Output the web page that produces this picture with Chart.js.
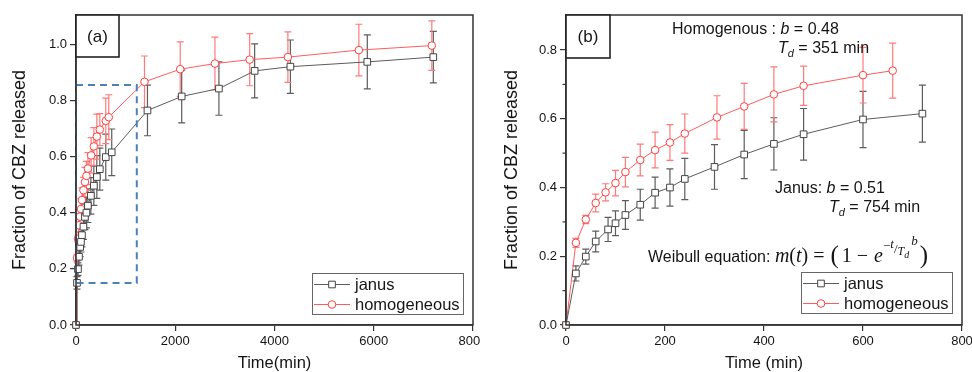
<!DOCTYPE html>
<html><head><meta charset="utf-8">
<script src="https://cdn.jsdelivr.net/npm/chart.js@4.4.0/dist/chart.umd.min.js"></script>
<style>
html,body{margin:0;padding:0;background:#fff;width:972px;height:372px;overflow:hidden}
#wa{position:absolute;left:0;top:0;width:480px;height:372px}
#wb{position:absolute;left:486px;top:0;width:486px;height:372px}
</style></head><body>
<div id="wa"><canvas id="ca" width="480" height="372"></canvas></div>
<div id="wb"><canvas id="cb" width="486" height="372"></canvas></div>
<script>
// ---------- data ----------
const seriesNames = ['janus', 'homogeneous'];
// early release (minutes)
const janusTime = [0, 20, 40, 60, 85, 100, 120, 150, 180, 210, 240, 300, 360, 420, 480, 600, 720];
const janusFrac = [0, 0.150, 0.199, 0.243, 0.278, 0.296, 0.320, 0.350, 0.385, 0.400, 0.425, 0.460, 0.496, 0.527, 0.555, 0.598, 0.615];
const janusErr  = [0, 0.022, 0.022, 0.030, 0.035, 0.036, 0.042, 0.045, 0.045, 0.054, 0.060, 0.065, 0.070, 0.076, 0.075, 0.082, 0.083];
const homTime = [0, 20, 40, 60, 80, 100, 120, 150, 180, 210, 240, 305, 360, 420, 480, 600, 660];
const homFrac = [0, 0.239, 0.307, 0.355, 0.386, 0.413, 0.445, 0.480, 0.509, 0.531, 0.557, 0.604, 0.636, 0.671, 0.696, 0.727, 0.740];
const homErr  = [0, 0.013, 0.012, 0.026, 0.025, 0.037, 0.043, 0.046, 0.052, 0.052, 0.057, 0.063, 0.067, 0.080, 0.057, 0.081, 0.080];
// long-term release (minutes)
const janusLongTime = [1440, 2130, 2880, 3600, 4320, 5870, 7200];
const janusLongFrac = [0.764, 0.814, 0.842, 0.905, 0.920, 0.937, 0.954];
const janusLongErr  = [0.090, 0.094, 0.095, 0.096, 0.095, 0.096, 0.092];
const homLongTime = [1380, 2100, 2800, 3500, 4270, 5700, 7170];
const homLongFrac = [0.866, 0.911, 0.931, 0.945, 0.954, 0.979, 0.995];
const homLongErr  = [0.092, 0.097, 0.094, 0.093, 0.090, 0.092, 0.088];
// ticks
const xTicksA = [0, 2000, 4000, 6000, 8000];
const yTicksA = [0, 0.2, 0.4, 0.6, 0.8, 1.0];
const xTicksB = [0, 200, 400, 600, 800];
const yTicksB = [0, 0.2, 0.4, 0.6, 0.8];
const yMinorB = [0.1, 0.3, 0.5, 0.7];
// highlighted region in panel (a): [xMin, xMax, yMin, yMax]
const zoomRegion = [0, 1225, 0.15, 0.855];

// ---------- styles ----------
const FONT = "'Liberation Sans', Arial, sans-serif";
const SERIF = "'Liberation Serif', 'Times New Roman', serif";
const TXT = '#151515';
const AX = '#333333';
const J = {line: '#5c5c5c', pt: '#444444', err: '#5c5c5c', style: 'rect', r: 4.7};
const H = {line: '#ff5c5c', pt: '#ff4040', err: '#ff7a7a', style: 'circle', r: 3.8};

function pts(t, v) { return t.map((x, i) => ({x: x, y: v[i]})); }
function makeDs(label, t, v, e, s) {
  return {label: label, data: pts(t, v), errors: e, errColor: s.err,
    borderColor: s.line, borderWidth: 1, pointStyle: s.style, pointRadius: s.r,
    pointBorderColor: s.pt, pointBackgroundColor: '#ffffff', pointBorderWidth: 1,
    tension: 0, fill: false, clip: 6};
}

function drawMarker(ctx, style, r, x, y, stroke) {
  ctx.save();
  ctx.fillStyle = '#fff'; ctx.strokeStyle = stroke; ctx.lineWidth = 1;
  ctx.beginPath();
  if (style === 'rect') { const s = Math.SQRT1_2 * r; ctx.rect(x - s, y - s, 2 * s, 2 * s); }
  else { ctx.arc(x, y, r, 0, Math.PI * 2); }
  ctx.fill(); ctx.stroke();
  ctx.restore();
}

const errorBars = {
  id: 'errorBars',
  beforeDatasetsDraw(chart) {
    const ctx = chart.ctx, x = chart.scales.x, y = chart.scales.y;
    chart.data.datasets.forEach(d => {
      ctx.save(); ctx.strokeStyle = d.errColor; ctx.lineWidth = 1.2;
      d.data.forEach((p, i) => {
        const e = d.errors[i]; if (!e) return;
        const px = x.getPixelForValue(p.x);
        const yt = y.getPixelForValue(p.y + e), yb = y.getPixelForValue(p.y - e);
        ctx.beginPath();
        ctx.moveTo(px, yt); ctx.lineTo(px, yb);
        ctx.moveTo(px - 3.5, yt); ctx.lineTo(px + 3.5, yt);
        ctx.moveTo(px - 3.5, yb); ctx.lineTo(px + 3.5, yb);
        ctx.stroke();
      });
      ctx.restore();
    });
  }
};

function makeDecor(opts) {
  return {
    id: 'decor',
    afterDraw(chart) {
      const ctx = chart.ctx, a = chart.chartArea, x = chart.scales.x, y = chart.scales.y;
      ctx.save();
      // zoom region
      if (opts.region) {
        const r = opts.region;
        const x0 = x.getPixelForValue(r[0]), x1 = x.getPixelForValue(r[1]);
        const y0 = y.getPixelForValue(r[2]), y1 = y.getPixelForValue(r[3]);
        ctx.strokeStyle = '#4f80b8'; ctx.lineWidth = 2; ctx.setLineDash([7, 5]);
        ctx.strokeRect(x0, y1, x1 - x0, y0 - y1);
        ctx.setLineDash([]);
      }
      // frame
      ctx.strokeStyle = AX; ctx.lineWidth = 1.5;
      ctx.strokeRect(a.left, a.top, a.right - a.left, a.bottom - a.top);
      // minor ticks
      if (opts.minor) {
        ctx.lineWidth = 1.2;
        opts.minor.forEach(v => {
          const py = y.getPixelForValue(v);
          ctx.beginPath(); ctx.moveTo(a.left - 3.5, py); ctx.lineTo(a.left, py); ctx.stroke();
        });
      }
      // panel label box
      ctx.fillStyle = '#fff';
      ctx.fillRect(a.left, a.top, opts.labW, opts.labH);
      ctx.strokeStyle = '#222'; ctx.lineWidth = 1.6;
      ctx.strokeRect(a.left, a.top, opts.labW, opts.labH);
      ctx.fillStyle = TXT; ctx.font = '17px ' + FONT; ctx.textAlign = 'center'; ctx.textBaseline = 'middle';
      ctx.fillText(opts.label, a.left + opts.labW / 2, a.top + opts.labH / 2 + 1);
      // legend
      const bw = 151, bh = 41;
      const bx = a.right - opts.legR - bw, by = a.bottom - opts.legB - bh;
      ctx.fillStyle = '#fff'; ctx.fillRect(bx, by, bw, bh);
      ctx.strokeStyle = '#666'; ctx.lineWidth = 1; ctx.strokeRect(bx + 0.5, by + 0.5, bw, bh);
      chart.data.datasets.forEach((d, i) => {
        const cy = by + 11.5 + i * 20;
        ctx.strokeStyle = d.borderColor; ctx.lineWidth = 1;
        ctx.beginPath(); ctx.moveTo(bx + 2, cy); ctx.lineTo(bx + 38, cy); ctx.stroke();
        drawMarker(ctx, d.pointStyle, d.pointRadius, bx + 20, cy, d.pointBorderColor);
        ctx.fillStyle = TXT; ctx.font = '16.5px ' + FONT; ctx.textAlign = 'left'; ctx.textBaseline = 'middle';
        ctx.fillText(d.label, bx + 43, cy + 1);
      });
      if (opts.notes) opts.notes(ctx);
      ctx.restore();
    }
  };
}

function rich(ctx, x, y, parts) {
  ctx.textAlign = 'left'; ctx.textBaseline = 'alphabetic'; ctx.fillStyle = TXT;
  parts.forEach(p => {
    ctx.font = p.f;
    ctx.fillText(p.t, x + (p.dx || 0), y + (p.dy || 0));
    x += ctx.measureText(p.t).width + (p.dx || 0) + (p.after || 0);
  });
}

function notesB(ctx) {
  const N = '16px ' + FONT, I = 'italic 16px ' + FONT, S = 'italic 11px ' + FONT;
  rich(ctx, 186, 34, [{t: 'Homogenous : ', f: N}, {t: 'b', f: I}, {t: ' = 0.48', f: N}]);
  rich(ctx, 292, 53, [{t: 'T', f: I}, {t: 'd', f: S, dy: 4}, {t: ' = 351 min', f: N}]);
  rich(ctx, 289, 193, [{t: 'Janus: ', f: N}, {t: 'b', f: I}, {t: ' = 0.51', f: N}]);
  rich(ctx, 343, 212, [{t: 'T', f: I}, {t: 'd', f: S, dy: 4}, {t: ' = 754 min', f: N}]);
  const M = '20px ' + SERIF, MI = 'italic 20px ' + SERIF, B = '25px ' + SERIF;
  rich(ctx, 162, 262, [
    {t: 'Weibull equation: ', f: N, after: 0},
    {t: 'm', f: MI}, {t: '(', f: M}, {t: 't', f: MI}, {t: ') = ', f: M, after: 1},
    {t: '(', f: B, dy: 1, after: 3}, {t: '1 \u2212 ', f: M, after: 1}, {t: 'e', f: MI},
    {t: '\u2212', f: '13px ' + SERIF, dy: -12}, {t: 't', f: 'italic 13px ' + SERIF, dy: -14},
    {t: '/', f: '13px ' + SERIF, dy: -9}, {t: 'T', f: 'italic 12px ' + SERIF, dy: -7},
    {t: 'd', f: 'italic 10px ' + SERIF, dy: -4, after: 2},
    {t: 'b', f: 'italic 13px ' + SERIF, dy: -17, after: 2},
    {t: ')', f: B, dy: 1}
  ]);
}

function scaleOpts(minV, maxV, ticksArr, fmt, title, isX, size, tpad) {
  return {
    type: 'linear', min: minV, max: maxV,
    afterBuildTicks: s => { s.ticks = ticksArr.map(v => ({value: v})); },
    afterFit: s => {
      if (isX) s.height = size; else s.width = size;
      s.paddingLeft = 0; s.paddingRight = 0; s.paddingTop = 0; s.paddingBottom = 0;
    },
    ticks: {font: {family: FONT, size: 13}, color: TXT, padding: 3, maxRotation: 0, autoSkip: false,
      callback: v => fmt(v)},
    grid: {drawOnChartArea: false, tickLength: 6, color: AX, lineWidth: 1.2},
    border: {color: AX, width: 1.5},
    title: {display: true, text: title, color: TXT,
      font: {family: FONT, size: isX ? 16.5 : 18, lineHeight: 1},
      padding: isX ? {top: 0, bottom: 0} : {top: tpad, bottom: 0}}
  };
}

const common = {
  responsive: false, animation: false, devicePixelRatio: 1,
  plugins: {legend: {display: false}, tooltip: {enabled: false}}
};

new Chart(document.getElementById('ca'), {
  type: 'line',
  data: {datasets: [
    makeDs(seriesNames[0], janusTime.concat(janusLongTime), janusFrac.concat(janusLongFrac), janusErr.concat(janusLongErr), J),
    makeDs(seriesNames[1], homTime.concat(homLongTime), homFrac.concat(homLongFrac), homErr.concat(homLongErr), H)
  ]},
  options: Object.assign({}, common, {
    layout: {padding: {left: 0, right: 7, top: 15, bottom: 0}},
    scales: {
      x: scaleOpts(0, 8000, xTicksA, v => String(v), 'Time(min)', true, 47),
      y: scaleOpts(0, 1.104, yTicksA, v => v.toFixed(1), 'Fraction of CBZ released', false, 76, 11)
    }
  }),
  plugins: [errorBars, makeDecor({region: zoomRegion, label: '(a)', labW: 43, labH: 42, legR: 10, legB: 11})]
});

new Chart(document.getElementById('cb'), {
  type: 'line',
  data: {datasets: [
    makeDs(seriesNames[0], janusTime, janusFrac, janusErr, J),
    makeDs(seriesNames[1], homTime, homFrac, homErr, H)
  ]},
  options: Object.assign({}, common, {
    layout: {padding: {left: 0, right: 10, top: 15, bottom: 0}},
    scales: {
      x: scaleOpts(0, 800, xTicksB, v => String(v), 'Time (min)', true, 47),
      y: scaleOpts(0, 0.902, yTicksB, v => v.toFixed(1), 'Fraction of CBZ released', false, 80, 17)
    }
  }),
  plugins: [errorBars, makeDecor({minor: yMinorB, label: '(b)', labW: 44, labH: 43, legR: 10, legB: 12, notes: notesB})]
});
</script>
</body></html>
